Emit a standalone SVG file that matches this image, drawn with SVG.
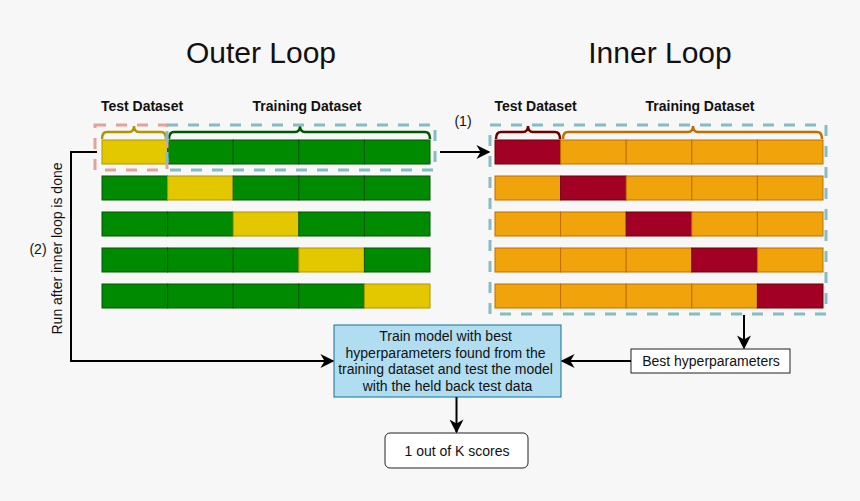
<svg xmlns="http://www.w3.org/2000/svg" xmlns:xlink="http://www.w3.org/1999/xlink" width="860" height="501" viewBox="0 0 860 501">
<style>
.t{font-family:"Liberation Sans",Arial,Helvetica,sans-serif;fill:#111}
.title{font-size:30px}
.lbl{font-size:14px;font-weight:bold}
.sm{font-size:14px}
.g{fill:#008a00;stroke:#005700;stroke-width:1}
.y{fill:#e3c800;stroke:#b09500;stroke-width:1}
.o{fill:#f0a30a;stroke:#bd7000;stroke-width:1}
.r{fill:#a20025;stroke:#6f0000;stroke-width:1}
.dash{fill:none;stroke-width:3;stroke-dasharray:11 10}
.brace{fill:none;stroke-width:2.5}
.con{fill:none;stroke:#000;stroke-width:2;marker-end:url(#arr)}
</style>
<defs>
<marker id="arr" viewBox="0 0 10 10" refX="9" refY="5" markerWidth="7" markerHeight="7" orient="auto" markerUnits="strokeWidth">
<path d="M0,0 L10,5 L0,10 L3,5 Z" fill="#000"/>
</marker>
</defs>
<rect width="860" height="501" fill="#f7f7f7"/>

<text class="t title" x="261" y="63" text-anchor="middle">Outer Loop</text>
<text class="t title" x="660" y="63" text-anchor="middle">Inner Loop</text>

<g id="outer-labels">
<text class="t lbl" x="142" y="111" text-anchor="middle">Test Dataset</text>
<text class="t lbl" x="307" y="111" text-anchor="middle">Training Dataset</text>
<path class="brace" stroke="#b09500" d="M102,139 Q102,132 107,132 L129,132 Q134,132 134,126 Q134,132 139,132 L161,132 Q166,132 166,139"/>
<path class="brace" stroke="#005700" d="M169,139 Q169,132 174,132 L295,132 Q300,132 300,126 Q300,132 305,132 L425,132 Q430,132 430,139"/>
</g>

<g id="outer-folds">
<g id="outer-row1">
<rect class="y" x="102" y="140" width="65.6" height="24"/>
<rect class="g" x="167.6" y="140" width="65.6" height="24"/>
<rect class="g" x="233.2" y="140" width="65.6" height="24"/>
<rect class="g" x="298.8" y="140" width="65.6" height="24"/>
<rect class="g" x="364.4" y="140" width="65.6" height="24"/>
</g>
<g id="outer-row2">
<rect class="g" x="102" y="176" width="65.6" height="24"/>
<rect class="y" x="167.6" y="176" width="65.6" height="24"/>
<rect class="g" x="233.2" y="176" width="65.6" height="24"/>
<rect class="g" x="298.8" y="176" width="65.6" height="24"/>
<rect class="g" x="364.4" y="176" width="65.6" height="24"/>
</g>
<g id="outer-row3">
<rect class="g" x="102" y="212" width="65.6" height="24"/>
<rect class="g" x="167.6" y="212" width="65.6" height="24"/>
<rect class="y" x="233.2" y="212" width="65.6" height="24"/>
<rect class="g" x="298.8" y="212" width="65.6" height="24"/>
<rect class="g" x="364.4" y="212" width="65.6" height="24"/>
</g>
<g id="outer-row4">
<rect class="g" x="102" y="248" width="65.6" height="24"/>
<rect class="g" x="167.6" y="248" width="65.6" height="24"/>
<rect class="g" x="233.2" y="248" width="65.6" height="24"/>
<rect class="y" x="298.8" y="248" width="65.6" height="24"/>
<rect class="g" x="364.4" y="248" width="65.6" height="24"/>
</g>
<g id="outer-row5">
<rect class="g" x="102" y="284" width="65.6" height="24"/>
<rect class="g" x="167.6" y="284" width="65.6" height="24"/>
<rect class="g" x="233.2" y="284" width="65.6" height="24"/>
<rect class="g" x="298.8" y="284" width="65.6" height="24"/>
<rect class="y" x="364.4" y="284" width="65.6" height="24"/>
</g>
<rect class="dash" stroke="#e3a29c" x="95" y="125" width="72" height="45"/>
<rect class="dash" stroke="#85bdc4" x="167" y="125" width="268" height="45"/>
</g>

<g id="inner-labels">
<text class="t lbl" x="535.5" y="111" text-anchor="middle">Test Dataset</text>
<text class="t lbl" x="700" y="111" text-anchor="middle">Training Dataset</text>
<path class="brace" stroke="#6f0000" d="M496,139 Q496,132 501,132 L523,132 Q528,132 528,126 Q528,132 533,132 L555,132 Q560,132 560,139"/>
<path class="brace" stroke="#bd7000" d="M563,139 Q563,132 568,132 L688,132 Q693,132 693,126 Q693,132 698,132 L817,132 Q822,132 822,139"/>
</g>

<g id="inner-folds">
<g id="inner-row1">
<rect class="r" x="495" y="140" width="65.6" height="24"/>
<rect class="o" x="560.6" y="140" width="65.6" height="24"/>
<rect class="o" x="626.2" y="140" width="65.6" height="24"/>
<rect class="o" x="691.8" y="140" width="65.6" height="24"/>
<rect class="o" x="757.4" y="140" width="65.6" height="24"/>
</g>
<g id="inner-row2">
<rect class="o" x="495" y="176" width="65.6" height="24"/>
<rect class="r" x="560.6" y="176" width="65.6" height="24"/>
<rect class="o" x="626.2" y="176" width="65.6" height="24"/>
<rect class="o" x="691.8" y="176" width="65.6" height="24"/>
<rect class="o" x="757.4" y="176" width="65.6" height="24"/>
</g>
<g id="inner-row3">
<rect class="o" x="495" y="212" width="65.6" height="24"/>
<rect class="o" x="560.6" y="212" width="65.6" height="24"/>
<rect class="r" x="626.2" y="212" width="65.6" height="24"/>
<rect class="o" x="691.8" y="212" width="65.6" height="24"/>
<rect class="o" x="757.4" y="212" width="65.6" height="24"/>
</g>
<g id="inner-row4">
<rect class="o" x="495" y="248" width="65.6" height="24"/>
<rect class="o" x="560.6" y="248" width="65.6" height="24"/>
<rect class="o" x="626.2" y="248" width="65.6" height="24"/>
<rect class="r" x="691.8" y="248" width="65.6" height="24"/>
<rect class="o" x="757.4" y="248" width="65.6" height="24"/>
</g>
<g id="inner-row5">
<rect class="o" x="495" y="284" width="65.6" height="24"/>
<rect class="o" x="560.6" y="284" width="65.6" height="24"/>
<rect class="o" x="626.2" y="284" width="65.6" height="24"/>
<rect class="o" x="691.8" y="284" width="65.6" height="24"/>
<rect class="r" x="757.4" y="284" width="65.6" height="24"/>
</g>
<rect class="dash" stroke="#85bdc4" x="490" y="125" width="336" height="189"/>
</g>

<g id="train-box">
<rect x="334" y="325" width="227" height="72" fill="#b1ddf0" stroke="#10739e" stroke-width="1"/>
<text class="t sm" text-anchor="middle">
<tspan x="447.5" y="341">Train model with best</tspan>
<tspan x="447.5" y="357.5">hyperparameters found from the</tspan>
<tspan x="447.5" y="374">training dataset and test the model</tspan>
<tspan x="447.5" y="390.5">with the held back test data</tspan>
</text>
</g>

<g id="best-box">
<rect x="631" y="349" width="159" height="24" fill="#fff" stroke="#222" stroke-width="1"/>
<text class="t sm" x="711" y="366" text-anchor="middle">Best hyperparameters</text>
</g>

<g id="score-box">
<rect x="385" y="433" width="143" height="35" rx="5" fill="#fff" stroke="#222" stroke-width="1"/>
<text class="t sm" x="457" y="456" text-anchor="middle">1 out of K scores</text>
</g>

<g id="connectors">
<path class="con" d="M440,152 L489,152"/>
<text class="t sm" x="463" y="126" text-anchor="middle">(1)</text>
<path class="con" d="M97,152 L71,152 L71,361 L333,361"/>
<text class="t sm" x="38" y="254" text-anchor="middle">(2)</text>
<text class="t sm" transform="translate(61.5,248.5) rotate(-90)" text-anchor="middle">Run after inner loop is done</text>
<path class="con" d="M744,315 L744,348"/>
<path class="con" d="M631,361 L562,361"/>
<path class="con" d="M456.5,397 L456.5,432"/>
</g>
</svg>
